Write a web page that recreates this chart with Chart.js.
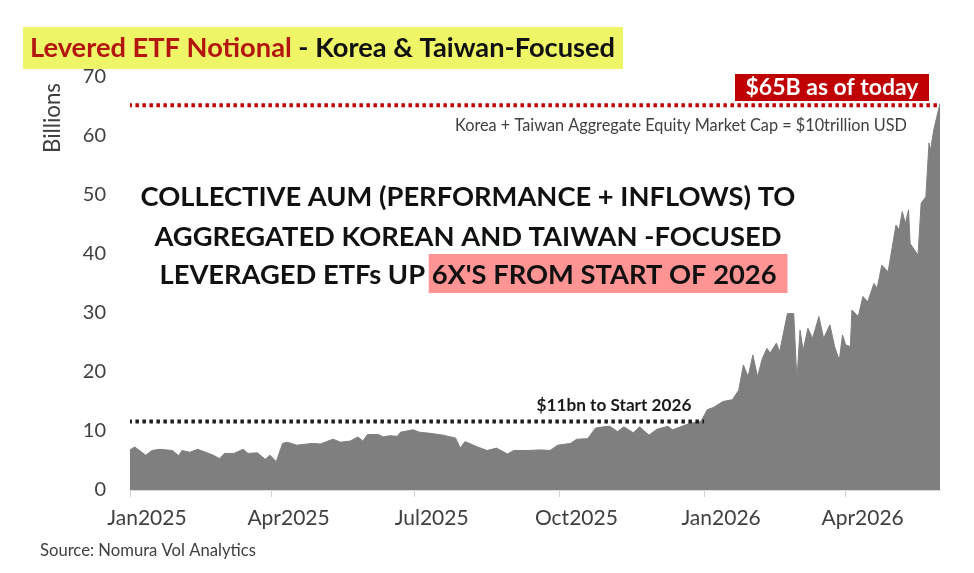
<!DOCTYPE html>
<html>
<head>
<meta charset="utf-8">
<script src="https://cdn.jsdelivr.net/npm/chart.js@4.4.1/dist/chart.umd.min.js"></script>
<style>
   html, body { margin: 0; padding: 0; background: #ffffff; }
   #wrap { width: 974px; height: 573px; }
</style>
</head>
<body>
<div id="wrap"><canvas id="levered-etf" width="974" height="573"></canvas></div>
<script>
// days counted from 1 Jan 2025
const dayIndex = [
   0, 3, 10, 14, 19, 27, 31, 33, 38, 43, 49, 53, 57, 60, 66, 72, 75, 81, 86, 89,
   93, 97, 100, 106, 116, 121, 129, 134, 140, 145, 148, 151, 158, 161, 165, 170, 172, 180, 184, 191,
   199, 207, 210, 213, 221, 227, 233, 240, 244, 253, 261, 267, 272, 280, 284, 291, 296, 301, 305, 310,
   314, 320, 324, 330, 335, 342, 345, 350, 356, 363, 367, 371, 377, 383, 387, 390, 393, 396, 399, 402,
   405, 407, 411, 413, 418, 422, 424, 426, 428, 431, 434, 438, 441, 445, 448, 451, 453, 455, 458, 459,
   463, 466, 469, 473, 475, 478, 482, 487, 489, 491, 493, 495, 496, 501, 503, 506, 508, 509, 511, 514,
   515,
];
// notional, USD billions
const notionalValues = [
   6.8, 7.3, 5.9, 6.7, 6.9, 6.7, 5.8, 6.7, 6.4, 6.9, 6.3, 5.9, 5.3, 6.2, 6.2, 6.9, 6.2, 6.3, 5.2, 5.9,
   4.8, 7.9, 8.1, 7.6, 7.9, 7.8, 8.6, 8.1, 8.3, 9.0, 8.3, 9.4, 9.4, 9.0, 9.2, 9.1, 9.8, 10.2, 9.8, 9.6,
   9.3, 8.8, 7.1, 8.2, 7.3, 6.7, 7.1, 6.1, 6.7, 6.7, 6.8, 6.7, 7.6, 7.9, 8.6, 8.7, 10.5, 10.7, 10.8, 9.9,
   10.7, 9.7, 10.7, 9.3, 10.3, 10.8, 10.2, 10.7, 11.3, 11.6, 13.6, 14.0, 15.0, 15.3, 16.9, 21.2, 19.2, 22.9, 19.2, 22.3,
   24.0, 23.2, 24.9, 23.4, 29.9, 29.9, 18.6, 27.1, 23.7, 27.4, 25.7, 29.4, 25.7, 28.0, 24.3, 22.0, 26.3, 24.6, 24.3, 30.5,
   29.4, 32.8, 31.9, 35.0, 34.2, 38.1, 37.0, 44.9, 44.1, 47.2, 45.2, 47.5, 41.8, 39.8, 48.6, 49.7, 58.8, 57.6, 61.0, 64.4,
   65.5,
];
const tickDays = [0, 90, 181, 273, 365, 455];
const tickLabels = ["Jan2025", "Apr2025", "Jul2025", "Oct2025", "Jan2026", "Apr2026"];
const todayLevel = 65.2;
const startLevel = 11.6;
const startLevelEndDay = 365;

const FONT = "Lato, 'Open Sans', sans-serif";
const areaGray = "#7f7f7f";
const titleRed = "#b3160f";

function fitFont(ctx, text, weight, targetWidth) {
   ctx.font = weight + " 100px " + FONT;
   const size = (100 * targetWidth) / ctx.measureText(text).width;
   return weight + " " + size.toFixed(2) + "px " + FONT;
}

function drawCentered(ctx, text, cx, cy) {
   ctx.textAlign = "center";
   ctx.textBaseline = "middle";
   ctx.fillText(text, cx, cy);
}

const annotationsPlugin = {
   id: "annotations",
   afterDraw(chart) {
      const { ctx } = chart;
      ctx.save();

      // title with yellow band
      ctx.fillStyle = "#eef566";
      ctx.fillRect(23, 27, 600, 42);
      const titleRedPart = "Levered ETF Notional";
      const titleRest = " - Korea & Taiwan-Focused";
      ctx.font = fitFont(ctx, titleRedPart + titleRest, "bold", 585);
      ctx.textAlign = "left";
      ctx.textBaseline = "middle";
      ctx.fillStyle = titleRed;
      ctx.fillText(titleRedPart, 30, 48);
      const redWidth = ctx.measureText(titleRedPart).width;
      ctx.fillStyle = "#111111";
      ctx.fillText(titleRest, 30 + redWidth, 48);

      // axis title
      ctx.save();
      ctx.translate(53, 118);
      ctx.rotate(-Math.PI / 2);
      ctx.fillStyle = "#404040";
      ctx.font = fitFont(ctx, "Billions", "normal", 70);
      drawCentered(ctx, "Billions", 0, 0);
      ctx.restore();

      // $65B box
      ctx.fillStyle = "#c00000";
      ctx.fillRect(735, 74, 194, 27);
      ctx.fillStyle = "#ffffff";
      ctx.font = fitFont(ctx, "$65B as of today", "bold", 173);
      drawCentered(ctx, "$65B as of today", 832, 88);

      ctx.fillStyle = "#404040";
      const capText = "Korea + Taiwan Aggregate Equity Market Cap = $10trillion USD";
      ctx.font = fitFont(ctx, capText, "normal", 452);
      drawCentered(ctx, capText, 681, 126);

      // headline block
      const line1 = "COLLECTIVE AUM (PERFORMANCE + INFLOWS) TO";
      const line2 = "AGGREGATED KOREAN AND TAIWAN -FOCUSED";
      const line3a = "LEVERAGED ETFs UP ";
      const line3b = "6X'S FROM START OF 2026";
      ctx.font = fitFont(ctx, line1, "bold", 655);
      const w3a = ctx.measureText(line3a).width;
      const w3b = ctx.measureText(line3b).width;
      const x3 = 468 - (w3a + w3b) / 2;
      ctx.fillStyle = "#ff9494";
      ctx.fillRect(x3 + w3a - 3, 254, w3b + 14, 39);
      ctx.fillStyle = "#111111";
      drawCentered(ctx, line1, 468, 197);
      drawCentered(ctx, line2, 468, 237);
      ctx.textAlign = "left";
      ctx.fillText(line3a + line3b, x3, 275);

      ctx.fillStyle = "#1a1a1a";
      ctx.font = fitFont(ctx, "$11bn to Start 2026", "bold", 155);
      drawCentered(ctx, "$11bn to Start 2026", 614, 405);

      ctx.fillStyle = "#404040";
      ctx.font = fitFont(ctx, "Source: Nomura Vol Analytics", "normal", 216);
      ctx.textAlign = "left";
      ctx.fillText("Source: Nomura Vol Analytics", 40, 551);

      ctx.restore();
   },
};

const canvas = document.getElementById("levered-etf");

new Chart(canvas, {
   type: "line",
   data: {
      datasets: [
         {
            label: "Notional",
            data: dayIndex.map((d, i) => ({ x: d, y: notionalValues[i] })),
            borderColor: areaGray,
            backgroundColor: areaGray,
            borderWidth: 1,
            fill: "origin",
            pointRadius: 0,
            tension: 0,
            order: 3,
         },
         {
            label: "Today",
            data: [
               { x: -1, y: todayLevel },
               { x: dayIndex[dayIndex.length - 1], y: todayLevel },
            ],
            borderColor: "#c00000",
            borderWidth: 4,
            borderDash: [3.5, 3.5],
            pointRadius: 0,
            fill: false,
            order: 1,
         },
         {
            label: "Start 2026",
            data: [
               { x: -1, y: startLevel },
               { x: startLevelEndDay, y: startLevel },
            ],
            borderColor: "#1e1e1e",
            borderWidth: 4,
            borderDash: [3.5, 3.5],
            pointRadius: 0,
            fill: false,
            order: 2,
         },
      ],
   },
   options: {
      responsive: false,
      animation: false,
      devicePixelRatio: 1,
      layout: { padding: { top: 77, right: 34, left: 0, bottom: 0 } },
      plugins: {
         legend: { display: false },
         tooltip: { enabled: false },
      },
      scales: {
         x: {
            type: "linear",
            min: 0,
            max: dayIndex[dayIndex.length - 1],
            afterBuildTicks: (scale) => {
               scale.ticks = tickDays.map((d) => ({ value: d }));
            },
            afterFit: (scale) => {
               scale.height = 83;
            },
            ticks: {
               autoSkip: false,
               maxRotation: 0,
               labelOffset: 17,
               padding: 9,
               color: "#404040",
               font: { family: FONT, size: 21 },
               callback: (value) => tickLabels[tickDays.indexOf(value)],
            },
            grid: {
               drawOnChartArea: false,
               drawTicks: true,
               tickLength: 7,
               color: "#d0d0d0",
            },
            border: { color: "#d9d9d9", width: 1 },
         },
         y: {
            min: 0,
            max: 70,
            afterFit: (scale) => {
               scale.width = 130;
            },
            ticks: {
               stepSize: 10,
               padding: 24,
               color: "#404040",
               font: { family: FONT, size: 20 },
            },
            grid: { display: false, drawTicks: false },
            border: { display: false },
         },
      },
   },
   plugins: [annotationsPlugin],
});
</script>
</body>
</html>
